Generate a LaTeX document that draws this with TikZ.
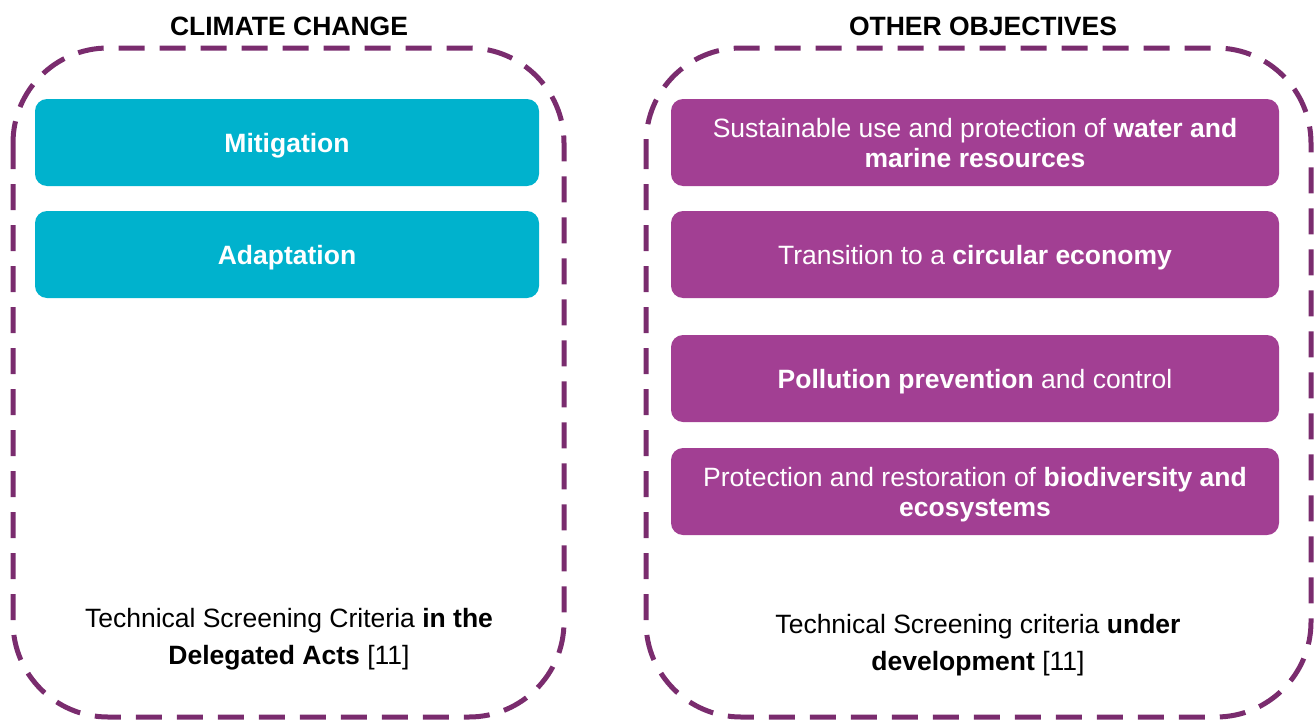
\documentclass[tikz,border=0pt]{standalone}
\usepackage{fontspec}
\setmainfont{Liberation Sans}
\definecolor{frame}{HTML}{7A2C6E}
\definecolor{teal}{HTML}{00B2CD}
\definecolor{plum}{HTML}{A23F93}
\tikzset{
  dashframe/.style={draw=frame, line width=5pt, dash pattern=on 26pt off 15pt, rounded corners=95pt},
  tealbox/.style={fill=teal, rounded corners=12pt, minimum width=504pt, minimum height=87pt, text=white, font=\fontsize{26.5}{30}\selectfont\bfseries, align=center, inner sep=0pt, text depth=0pt},
  plumbox/.style={fill=plum, rounded corners=12pt, minimum width=608pt, minimum height=87pt, text=white, font=\fontsize{26.5}{30}\selectfont, align=center, inner sep=0pt, text depth=0pt},
  heading/.style={font=\fontsize{26.5}{30}\selectfont\bfseries},
  note/.style={font=\fontsize{26.5}{37}\selectfont, align=center}
}
\begin{document}
\begin{tikzpicture}[x=1pt,y=-1pt]
\useasboundingbox (0,0) rectangle (1315,720);
\draw[dashframe] (13,48) rectangle (564,717);
\draw[dashframe] (646,48) rectangle (1311,717);
\node[heading] (h1) at (289,26) {CLIMATE CHANGE};
\node[heading] (h2) at (983,26) {OTHER OBJECTIVES};
\node[tealbox] (mit) at (287,142.5) {Mitigation};
\node[tealbox] (ada) at (287,254.5) {Adaptation};
\node[plumbox] (w) at (975,142.5) {Sustainable use and protection of \textbf{water and}\\\textbf{marine resources}};
\node[plumbox] (c) at (975,254.5) {Transition to a \textbf{circular economy}};
\node[plumbox] (p) at (975,378.5) {\textbf{Pollution prevention} and control};
\node[plumbox] (b) at (975,491.5) {Protection and restoration of \textbf{biodiversity and}\\\textbf{ecosystems}};
\node[note] (n1) at (289,639) {Technical Screening Criteria \textbf{in the}\\\textbf{Delegated Acts} [11]};
\node[note] (n2) at (978,645) {Technical Screening criteria \textbf{under}\\\textbf{development} [11]};
\end{tikzpicture}
\end{document}
